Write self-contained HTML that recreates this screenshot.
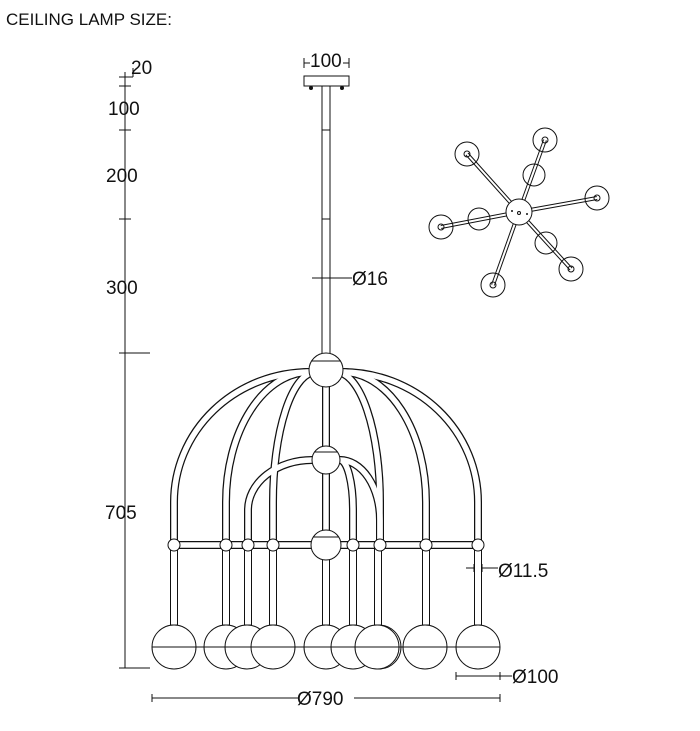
<!DOCTYPE html>
<html><head><style>
body{margin:0;background:#fff;width:700px;height:731px;overflow:hidden}
svg{position:absolute;left:0;top:0}
text{font-family:"Liberation Sans",sans-serif;fill:#111}
</style></head><body>
<svg width="700" height="731" viewBox="0 0 700 731">
<text x="6" y="25" font-size="17">CEILING LAMP SIZE:</text>
<g stroke="#111" stroke-width="1" fill="none">
<line x1="125" y1="72" x2="125" y2="668"/>
<line x1="119" y1="77" x2="133" y2="77"/><line x1="133" y1="68" x2="133" y2="77"/>
<line x1="119" y1="86" x2="131" y2="86"/>
<line x1="119" y1="130" x2="131" y2="130"/>
<line x1="119" y1="219" x2="131" y2="219"/>
<line x1="119" y1="353" x2="150" y2="353"/>
<line x1="119" y1="668" x2="150" y2="668"/>
<rect x="304" y="76" width="45" height="10"/>
<line x1="304" y1="58" x2="304" y2="68"/><line x1="349" y1="58" x2="349" y2="68"/><line x1="304" y1="63" x2="310" y2="63"/><line x1="343" y1="63" x2="349" y2="63"/>
<line x1="322" y1="86" x2="322" y2="356"/><line x1="330" y1="86" x2="330" y2="356"/>
<line x1="322" y1="130" x2="330" y2="130"/><line x1="322" y1="219" x2="330" y2="219"/>
<line x1="312" y1="278" x2="352" y2="278"/>
<line x1="152" y1="698" x2="298" y2="698"/><line x1="354" y1="698" x2="500" y2="698"/>
<line x1="152" y1="694" x2="152" y2="702"/><line x1="500" y1="694" x2="500" y2="702"/>
<line x1="456" y1="676" x2="512" y2="676"/><line x1="456" y1="672" x2="456" y2="680"/><line x1="500" y1="672" x2="500" y2="680"/>
<line x1="466" y1="568" x2="498" y2="568"/><line x1="474" y1="564" x2="474" y2="572"/><line x1="482" y1="564" x2="482" y2="572"/>
</g>
<g fill="#111">
<circle cx="311" cy="88" r="2"/><circle cx="342" cy="88" r="2"/>
</g>
<g font-size="19">
<text x="131" y="74">20</text>
<text x="108" y="115">100</text>
<text x="106" y="182">200</text>
<text x="106" y="294">300</text>
<text x="105" y="519">705</text>
<text x="310" y="67">100</text>
<text x="352" y="285">Ø16</text>
<text x="498" y="577">Ø11.5</text>
<text x="512" y="683">Ø100</text>
<text x="297" y="705">Ø790</text>
</g>
<g fill="none">
<g stroke="#111" stroke-width="8">
<path d="M310 372 A136 130 0 0 0 174 502 L174 545"/>
<path d="M310 372 A84 130 0 0 0 226 502 L226 545"/>
<path d="M316 372 A43 130 0 0 0 273 502 L273 545"/>
<path d="M342 372 A136 130 0 0 1 478 502 L478 545"/>
<path d="M342 372 A84 130 0 0 1 426 502 L426 545"/>
<path d="M336 372 A44 130 0 0 1 380 502 L380 545"/>
<path d="M312 460 A64 50 0 0 0 248 510 L248 545"/>
<path d="M340 460 A13 50 0 0 1 353 510 L353 545"/>
<path d="M340 460 A40 60 0 0 1 380 520 L380 545"/>
<line x1="326" y1="380" x2="326" y2="545"/>
<line x1="174" y1="545" x2="478" y2="545"/>
</g>
<g stroke="#fff" stroke-width="5.5">
<path d="M310 372 A136 130 0 0 0 174 502 L174 545"/>
<path d="M310 372 A84 130 0 0 0 226 502 L226 545"/>
<path d="M316 372 A43 130 0 0 0 273 502 L273 545"/>
<path d="M342 372 A136 130 0 0 1 478 502 L478 545"/>
<path d="M342 372 A84 130 0 0 1 426 502 L426 545"/>
<path d="M336 372 A44 130 0 0 1 380 502 L380 545"/>
<path d="M312 460 A64 50 0 0 0 248 510 L248 545"/>
<path d="M340 460 A13 50 0 0 1 353 510 L353 545"/>
<path d="M340 460 A40 60 0 0 1 380 520 L380 545"/>
<line x1="326" y1="380" x2="326" y2="545"/>
<line x1="174" y1="545" x2="478" y2="545"/>
</g>
</g>
<g stroke="#111" stroke-width="1" fill="#fff">
<rect x="170.5" y="545" width="7" height="80"/><rect x="222.5" y="545" width="7" height="80"/>
<rect x="244.5" y="545" width="7" height="80"/><rect x="269.5" y="545" width="7" height="80"/>
<rect x="322.5" y="545" width="7" height="80"/><rect x="349.5" y="545" width="7" height="80"/>
<rect x="374.5" y="545" width="7" height="80"/><rect x="422.5" y="545" width="7" height="80"/>
<rect x="474.5" y="545" width="7" height="80"/>
<circle cx="326" cy="370" r="17"/><circle cx="326" cy="460" r="14"/><circle cx="326" cy="545" r="15"/>
<circle cx="174" cy="545" r="6"/><circle cx="226" cy="545" r="6"/><circle cx="248" cy="545" r="6"/><circle cx="273" cy="545" r="6"/>
<circle cx="353" cy="545" r="6"/><circle cx="380" cy="545" r="6"/><circle cx="426" cy="545" r="6"/><circle cx="478" cy="545" r="6"/>
<circle cx="174" cy="647" r="22"/><circle cx="226" cy="647" r="22"/><circle cx="247" cy="647" r="22"/><circle cx="273" cy="647" r="22"/>
<circle cx="326" cy="647" r="22"/><circle cx="353" cy="647" r="22"/><circle cx="379" cy="647" r="22"/><circle cx="377" cy="647" r="22"/>
<circle cx="425" cy="647" r="22"/><circle cx="478" cy="647" r="22"/>
</g>
<g stroke="#111" stroke-width="1">
<line x1="152" y1="647" x2="500" y2="647"/>
<line x1="312" y1="361" x2="340" y2="361"/><line x1="314" y1="452" x2="338" y2="452"/><line x1="313" y1="537" x2="339" y2="537"/>
</g>
<g stroke="#111" stroke-width="1" fill="none">
<g stroke-width="4"><line x1="519" y1="212" x2="467" y2="154"/><line x1="519" y1="212" x2="545" y2="140"/><line x1="519" y1="212" x2="597" y2="198"/><line x1="519" y1="212" x2="571" y2="269"/><line x1="519" y1="212" x2="493" y2="285"/><line x1="519" y1="212" x2="441" y2="227"/></g>
<g stroke="#fff" stroke-width="2"><line x1="519" y1="212" x2="467" y2="154"/><line x1="519" y1="212" x2="545" y2="140"/><line x1="519" y1="212" x2="597" y2="198"/><line x1="519" y1="212" x2="571" y2="269"/><line x1="519" y1="212" x2="493" y2="285"/><line x1="519" y1="212" x2="441" y2="227"/></g>
<circle cx="467" cy="154" r="12"/><circle cx="545" cy="140" r="12"/><circle cx="597" cy="198" r="12"/><circle cx="571" cy="269" r="12"/><circle cx="493" cy="285" r="12"/><circle cx="441" cy="227" r="12"/>
<circle cx="534" cy="175" r="11"/><circle cx="546" cy="243" r="11"/><circle cx="479" cy="219" r="11"/>
<circle cx="467" cy="154" r="3"/><circle cx="545" cy="140" r="3"/><circle cx="597" cy="198" r="3"/><circle cx="571" cy="269" r="3"/><circle cx="493" cy="285" r="3"/><circle cx="441" cy="227" r="3"/>
<circle cx="519" cy="212" r="13" fill="#fff"/><circle cx="519" cy="213" r="1.5"/>
</g>
<circle cx="512" cy="211" r="1" fill="#111"/><circle cx="527" cy="214" r="1" fill="#111"/>
</svg>
</body></html>
